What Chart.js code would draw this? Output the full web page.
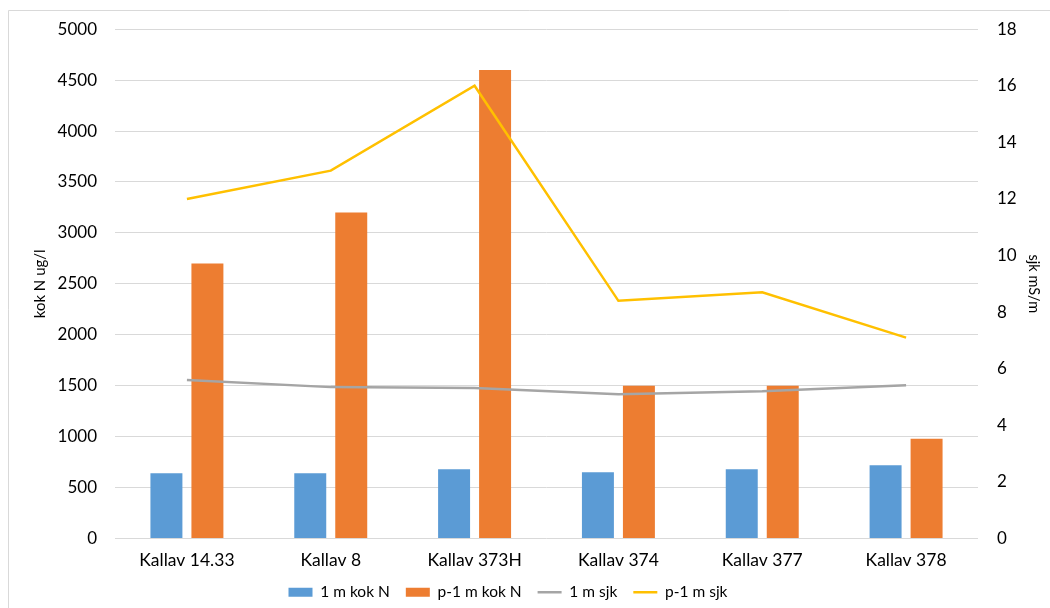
<!DOCTYPE html>
<html>
<head>
<meta charset="utf-8">
<script src="https://cdn.jsdelivr.net/npm/chart.js@4/dist/chart.umd.min.js"></script>
<style>
  html, body { margin: 0; padding: 0; background: #fff; }
  #wrap { position: relative; width: 1050px; height: 608px; }
</style>
</head>
<body>
<div id="wrap"><canvas id="chart" width="1050" height="608"></canvas></div>
<script>
// data
const categories = ['Kallav 14.33', 'Kallav 8', 'Kallav 373H', 'Kallav 374', 'Kallav 377', 'Kallav 378'];
const kokN1m = [640, 640, 680, 650, 680, 720];
const kokNp1m = [2700, 3200, 4600, 1500, 1500, 980];
const sjk1m = [5.6, 5.35, 5.32, 5.1, 5.2, 5.42];
const sjkp1m = [12, 13, 16, 8.4, 8.7, 7.1];
const leftTicks = [0, 500, 1000, 1500, 2000, 2500, 3000, 3500, 4000, 4500, 5000];
const rightTicks = [0, 2, 4, 6, 8, 10, 12, 14, 16, 18];

const FONT = 'Lato, "Open Sans", sans-serif';
Chart.defaults.font.family = FONT;
Chart.defaults.font.size = 17;
Chart.defaults.color = '#000';

// light frame round the chart, like the office chart border
const framePlugin = {
  id: 'frame',
  beforeDraw(chart) {
    const ctx = chart.ctx;
    ctx.save();
    ctx.fillStyle = '#fff';
    ctx.fillRect(0, 0, chart.width, chart.height);
    ctx.strokeStyle = '#d9d9d9';
    ctx.lineWidth = 1;
    ctx.beginPath();
    ctx.moveTo(8.5, chart.height);
    ctx.lineTo(8.5, 10.5);
    ctx.lineTo(chart.width, 10.5);
    ctx.stroke();
    ctx.restore();
  }
};

// the legend in the reference sits a bit left of the canvas centre
const legendShift = {
  id: 'legendShift',
  afterLayout(chart) {
    chart.legend.left -= 21;
    chart.legend.right -= 21;
  }
};

new Chart(document.getElementById('chart').getContext('2d'), {
  data: {
    labels: categories,
    datasets: [
      {
        type: 'bar', label: '1 m kok N', data: kokN1m, yAxisID: 'y',
        backgroundColor: '#5b9bd5', pointStyle: 'rect', order: 3
      },
      {
        type: 'bar', label: 'p-1 m kok N', data: kokNp1m, yAxisID: 'y',
        backgroundColor: '#ed7d31', pointStyle: 'rect', order: 4
      },
      {
        type: 'line', label: '1 m sjk', data: sjk1m, yAxisID: 'y1',
        borderColor: '#a5a5a5', backgroundColor: '#a5a5a5', borderWidth: 2.5,
        pointRadius: 0, pointStyle: 'line', tension: 0, order: 2
      },
      {
        type: 'line', label: 'p-1 m sjk', data: sjkp1m, yAxisID: 'y1',
        borderColor: '#ffc000', backgroundColor: '#ffc000', borderWidth: 2.5,
        pointRadius: 0, pointStyle: 'line', tension: 0, order: 1
      }
    ]
  },
  options: {
    responsive: false,
    animation: false,
    layout: { padding: { left: 8, right: 0, top: 17, bottom: -2 } },
    datasets: {
      bar: { categoryPercentage: 0.57, barPercentage: 0.78 }
    },
    plugins: {
      legend: {
        position: 'bottom',
        labels: {
          usePointStyle: true,
          pointStyleWidth: 24,
          boxWidth: 24,
          boxHeight: 9,
          padding: 16,
          sort: (a, b) => a.datasetIndex - b.datasetIndex,
          font: { size: 15.5, family: FONT }
        }
      },
      tooltip: { enabled: false }
    },
    scales: {
      x: {
        grid: { display: false, drawTicks: false },
        border: { display: false },
        ticks: { padding: 11, maxRotation: 0, font: { size: 17.5 } },
        afterFit(scale) {
          scale.height = 30;
          // labels reach a little into the legend band; don't clip them
          scale._computeLabelArea = () => undefined;
        }
      },
      y: {
        position: 'left',
        min: 0, max: 5000,
        afterBuildTicks(scale) { scale.ticks = leftTicks.map(v => ({ value: v })); },
        grid: { color: '#d9d9d9', drawTicks: false },
        border: { display: false },
        ticks: { padding: 18, callback: v => String(v) },
        title: { display: true, text: 'kok N ug/l', font: { size: 15 }, padding: { top: 23, bottom: 0 } },
        afterFit(scale) { scale.width = 107; }
      },
      y1: {
        position: 'right',
        min: 0, max: 18,
        afterBuildTicks(scale) { scale.ticks = rightTicks.map(v => ({ value: v })); },
        grid: { display: false, drawTicks: false },
        border: { display: false },
        ticks: { padding: 19, callback: v => String(v) },
        title: { display: true, text: 'sjk mS/m', font: { size: 14.5 }, padding: { top: 8, bottom: 0 } },
        afterFit(scale) { scale.width = 72; }
      }
    }
  },
  plugins: [framePlugin, legendShift]
});
</script>
</body>
</html>
